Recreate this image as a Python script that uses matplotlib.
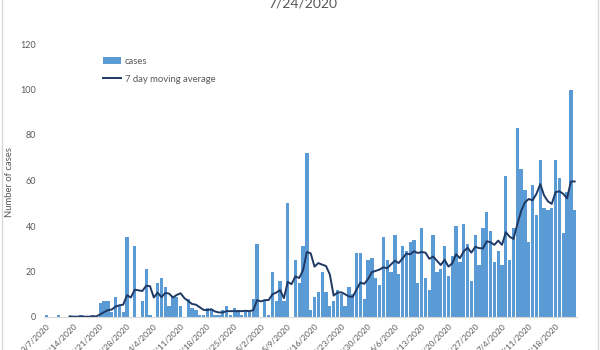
import pandas as pd
import numpy as np
import matplotlib
matplotlib.use('Agg')
import matplotlib.pyplot as plt
from matplotlib.lines import Line2D

plt.rcParams['font.family'] = ['Lato', 'DejaVu Sans']

# daily cases, one value per day starting 3/7/2020
start_date = '2020-03-07'
cases = [1, 0, 0, 1, 0, 0, 0, 0, 0, 1, 0, 0, 1, 0,
         6, 7, 7, 2, 9, 5, 2, 35, 0, 31, 0, 7, 21, 1,
         0, 15, 17, 13, 5, 9, 9, 5, 0, 8, 4, 3, 1, 1,
         4, 3, 1, 1, 3, 5, 1, 4, 3, 1, 2, 2, 8, 32,
         0, 7, 1, 20, 7, 16, 7, 50, 0, 25, 15, 31, 72, 3,
         9, 11, 20, 11, 5, 7, 12, 10, 5, 13, 10, 28, 28, 8,
         25, 26, 17, 14, 35, 25, 20, 36, 19, 31, 29, 33, 34, 15,
         39, 17, 12, 36, 20, 21, 31, 18, 27, 40, 24, 41, 32, 16,
         36, 23, 39, 46, 38, 24, 29, 23, 62, 25, 39, 83, 65, 56,
         33, 58, 45, 69, 48, 47, 48, 69, 61, 37, 55, 100, 47]
title = '7/24/2020'
y_ticks = [0, 20, 40, 60, 80, 100, 120]

dates = pd.date_range(start_date, periods=len(cases), freq='D')
df = pd.DataFrame({'cases': cases}, index=dates)
# 7 day moving average like the excel trendline (starts at 7th point)
df['ma7'] = df['cases'].rolling(window=7).mean()
days = np.arange(len(df))

blue = '#5B9BD5'
navy = '#1F3864'
grey = '#595959'

fig = plt.figure(figsize=(6, 3.5), dpi=100)
ax = fig.add_axes([44/600, 1-317/350, 533/600, 273/350])

bars = ax.bar(days, df['cases'], width=0.86, color=blue, linewidth=0, label='cases')
line, = ax.plot(days, df['ma7'], color=navy, linewidth=1.4, label='7 day moving average')

ax.set_xlim(-0.7, len(days) - 0.4)
ax.set_ylim(0, 120)
ax.set_yticks(y_ticks)
ax.tick_params(axis='y', length=0, pad=5.5, labelsize=6.5, labelcolor=grey)

tick_pos = days[::7]
tick_lab = [f'{d.month}/{d.day}/{d.year}' for d in dates[::7]]
ax.set_xticks(tick_pos)
ax.set_xticklabels(tick_lab, rotation=45, ha='right', va='top',
                   rotation_mode='anchor', fontsize=6, color=grey)
ax.tick_params(axis='x', length=0, pad=4)

for s in ['top', 'right', 'left']:
    ax.spines[s].set_visible(False)
ax.spines['bottom'].set_color('#D9D9D9')
ax.spines['bottom'].set_linewidth(0.8)

# legend: cases on top, moving average below
leg = ax.legend(handles=[bars, line], loc='upper left',
                bbox_to_anchor=(103/600, 1-57/350),
                bbox_transform=fig.transFigure, frameon=False, fontsize=6.8,
                labelspacing=0.9, handlelength=1.9, handletextpad=0.4,
                borderpad=0, borderaxespad=0)
for t in leg.get_texts():
    t.set_color(grey)

fig.text(303/600, 1-8/350, title, ha='center', va='baseline', fontsize=10, color=grey)
fig.text(10/600, 1-182/350, 'Number of cases', rotation=90, ha='center', va='center',
         fontsize=6.8, color=grey)

# chart border (left / right edges visible in the crop)
fig.add_artist(Line2D([1.5/600, 1.5/600], [0, 1], color='#D9D9D9', lw=1))
fig.add_artist(Line2D([597.5/600, 597.5/600], [0, 1], color='#D9D9D9', lw=1))

fig.savefig('out.png', dpi=100)
